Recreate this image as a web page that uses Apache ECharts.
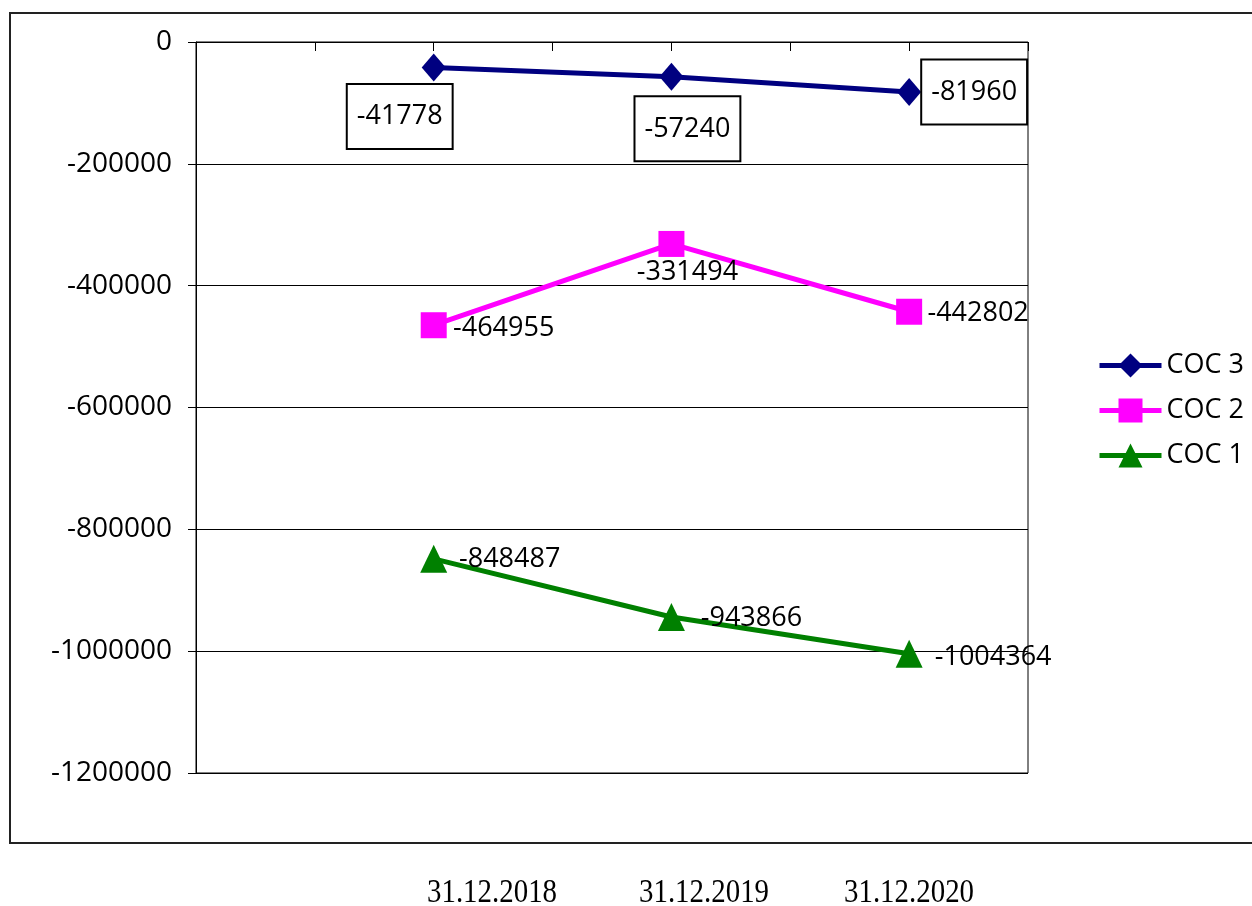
<!DOCTYPE html>
<html>
<head>
<meta charset="utf-8">
<script src="https://cdn.jsdelivr.net/npm/echarts@6/dist/echarts.min.js"></script>
<style>
  html, body { margin: 0; padding: 0; background: #fff; }
  #chart { width: 1252px; height: 906px; }
</style>
</head>
<body>
<div id="chart"></div>
<script>
// данные графика
var categories = ['31.12.2018', '31.12.2019', '31.12.2020'];
var coc3 = [-41778, -57240, -81960];
var coc2 = [-464955, -331494, -442802];
var coc1 = [-848487, -943866, -1004364];
var seriesNames = ['COC 3', 'COC 2', 'COC 1'];
var yMin = -1200000, yMax = 0, yStep = 200000;

// ось X: 8 делений, точки стоят на 2, 4, 6
var slotCount = 8;
function slotOf(i){ return 2 * i + 2; }

// смещения подписей (вёрстка, не данные)
var labelOffsets = {
	'COC 3': [[-34, 49], [16, 52], [65, 0]],
	'COC 2': [[70, 3], [16, 28], [69, 2]],
	'COC 1': [[76, 0], [80, 1], [84, 3]]
};
var dateLabelX = [492, 704, 909];

var font = '"Open Sans", "Noto Sans", sans-serif';

var slots = [];
for (var s = 0; s < slotCount; s++) slots.push('');
for (var i = 0; i < categories.length; i++) slots[slotOf(i)] = categories[i];

function buildData(values, name, boxed){
	var arr = [];
	for (var s = 0; s < slotCount; s++) arr.push('-');
	for (var i = 0; i < values.length; i++){
		var lbl = {
			show: true,
			position: 'inside',
			offset: labelOffsets[name][i],
			formatter: function(p){ return String(p.value); },
			color: '#000',
			fontFamily: font,
			fontSize: 27
		};
		if (boxed){
			lbl.backgroundColor = '#fff';
			lbl.borderColor = '#000';
			lbl.borderWidth = 2;
			lbl.padding = [19, 9, 17, 9];
		}
		arr[slotOf(i)] = { value: values[i], label: lbl };
	}
	return arr;
}

function makeSeries(name, values, color, symbol, size, boxed){
	return {
		name: name,
		type: 'line',
		data: buildData(values, name, boxed),
		connectNulls: true,
		symbol: symbol,
		symbolSize: size,
		lineStyle: { color: color, width: 5 },
		itemStyle: { color: color },
		emphasis: { disabled: true },
		z: 3
	};
}

var chart = echarts.init(document.getElementById('chart'));

var graphics = [{
	type: 'rect',
	shape: { x: 10, y: 13, width: 1270, height: 830 },
	style: { fill: 'none', stroke: '#222', lineWidth: 2 },
	silent: true
}];
for (var k = 0; k < categories.length; k++){
	graphics.push({
		type: 'text',
		x: dateLabelX[k],
		y: 893,
		scaleX: 0.85,
		style: {
			text: categories[k],
			fill: '#000',
			font: '34px "Liberation Serif", "Times New Roman", serif',
			textAlign: 'center',
			textVerticalAlign: 'middle'
		},
		silent: true
	});
}

var option = {
	animation: false,
	backgroundColor: '#fff',
	graphic: graphics,
	grid: {
		left: 196, top: 42, right: 224, bottom: 133,
		show: true, borderColor: '#000', borderWidth: 1,
		backgroundColor: 'transparent'
	},
	legend: {
		orient: 'vertical',
		left: 1092,
		top: 347,
		itemWidth: 62,
		itemHeight: 30,
		itemGap: 18,
		itemStyle: { borderWidth: 0 },
		lineStyle: { width: 5 },
		textStyle: { color: '#000', fontFamily: font, fontSize: 27 },
		data: seriesNames
	},
	xAxis: {
		type: 'category',
		position: 'top',
		boundaryGap: false,
		data: slots,
		axisLine: { show: true, onZero: false, lineStyle: { color: '#000', width: 1 } },
		axisTick: { show: true, inside: true, length: 9, interval: 0, lineStyle: { color: '#000' } },
		axisLabel: { show: false },
		splitLine: { show: false }
	},
	yAxis: {
		type: 'value',
		min: yMin,
		max: yMax,
		interval: yStep,
		axisLine: { show: true, lineStyle: { color: '#000', width: 1 } },
		axisTick: { show: true, inside: false, length: 8, lineStyle: { color: '#000' } },
		axisLabel: {
			color: '#000', fontFamily: font, fontSize: 28, margin: 24,
			formatter: function(v){ return String(v); }
		},
		splitLine: { show: true, lineStyle: { color: '#000', width: 1 } }
	},
	series: [
		makeSeries('COC 3', coc3, '#000080', 'diamond', [24, 28], true),
		makeSeries('COC 2', coc2, '#FF00FF', 'rect', 26, false),
		makeSeries('COC 1', coc1, '#008000', 'triangle', [27, 28], false)
	]
};

chart.setOption(option);
</script>
</body>
</html>
